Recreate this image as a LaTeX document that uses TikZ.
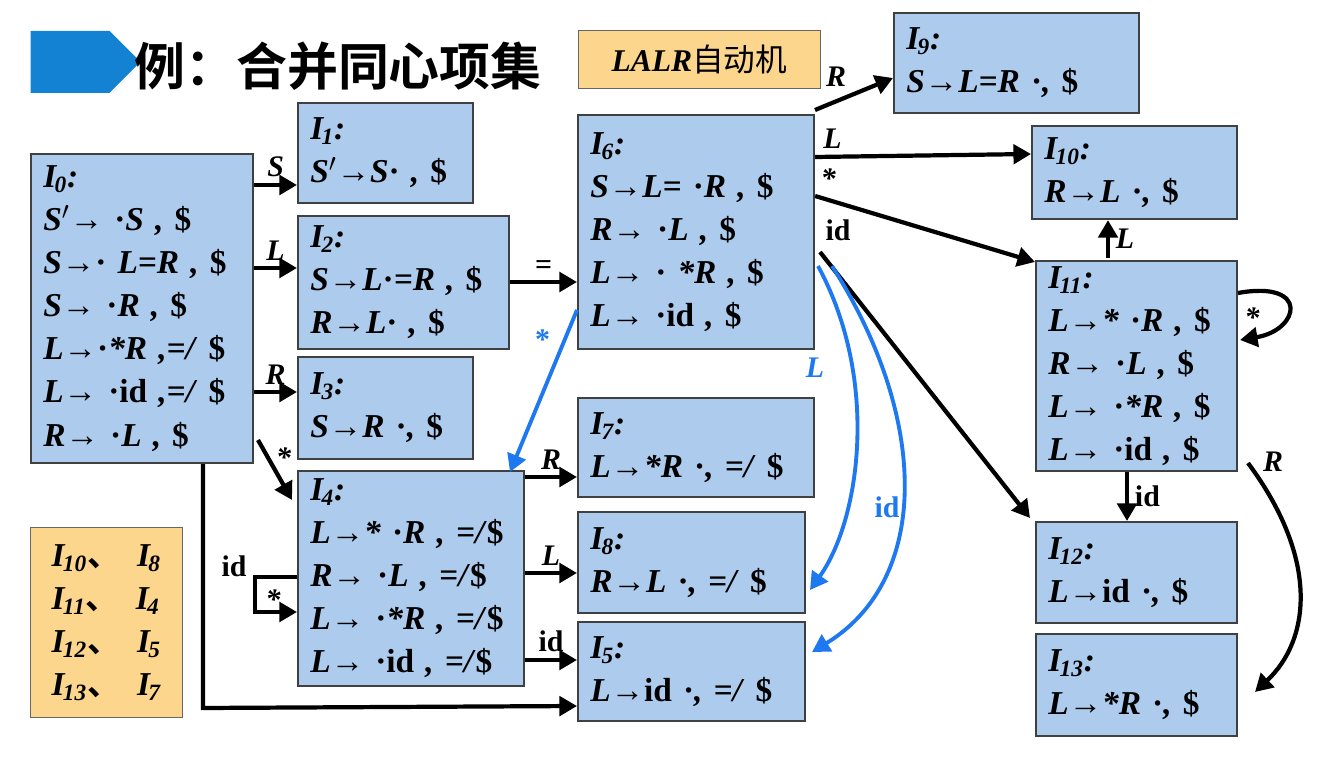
\documentclass[tikz,border=0pt]{standalone}
\usepackage{fontspec}
\setmainfont{Liberation Serif}
\newfontfamily\cjk{Noto Sans CJK SC}[BoldFont={Noto Sans CJK SC Bold}]
\usetikzlibrary{arrows.meta,shapes.arrows}
\newcommand{\ri}{\textup{id}}
\newcommand{\Ii}[1]{I\textsubscript{\kern-1pt#1}}
\newcommand{\dol}{\textup{\$}}
\newcommand{\dt}{\textup{·}}
\begin{document}
\begin{tikzpicture}[x=0.02cm,y=-0.02cm,
  box/.style={draw=black!75,line width=1.2pt,fill={rgb,255:red,173;green,203;blue,237},
    anchor=north west,align=left,inner xsep=6pt,inner ysep=3pt,
    font=\fontsize{19}{24.5}\selectfont\bfseries\itshape},
  arr/.style={line width=2.4pt,-{Triangle[length=10pt,width=11pt]}},
  barr/.style={line width=2.2pt,draw={rgb,255:red,30;green,120;blue,240},-{Triangle[length=10pt,width=11pt]}},
  lab/.style={font=\fontsize{17}{17}\selectfont\bfseries\itshape},
  blab/.style={lab,text={rgb,255:red,30;green,120;blue,240}}]
\useasboundingbox (0,0) rectangle (1326,763);
\newcommand{\bx}[6]{\node[box,minimum width={(#4-#2)*0.02cm},minimum height={(#5-#3)*0.02cm},text width={(#4-#2)*0.02cm-14pt}] (#1) at (#2,#3) {#6};}
% title
\node[single arrow,fill={rgb,255:red,20;green,130;blue,210},minimum height=110*0.02cm,minimum width=62*0.02cm,single arrow head extend=0pt,inner sep=0pt] (ttlarrow) at (70,62) {};
\node[anchor=west,font=\fontsize{29}{29}\selectfont\cjk\bfseries] (title) at (128,66) {例：合并同心项集};
\node[draw=black!60,fill={rgb,255:red,252;green,214;blue,140},anchor=north west,minimum width=242*0.02cm,minimum height=58*0.02cm,font=\fontsize{18}{18}\selectfont] (lalr) at (578,30) {\textbf{\textit{LALR}}{\cjk 自动机}};
% boxes
\bx{I0}{30}{153}{252}{462}{\Ii{0}:\\S$'$→ \dt S , \dol\\S→\dt\ L=R , \dol\\S→ \dt R , \dol\\L→\dt*R ,=/ \dol\\L→ \dt\ri\ ,=/ \dol\\R→ \dt L , \dol}
\bx{I1}{297}{102}{472}{202}{\Ii{1}:\\S$'$→S\dt\ , \dol}
\bx{I2}{297}{215}{508}{348}{\Ii{2}:\\S→L\dt=R , \dol\\R→L\dt\ , \dol}
\bx{I3}{297}{356}{472}{458}{\Ii{3}:\\S→R \dt, \dol}
\bx{I4}{297}{470}{523}{685}{\Ii{4}:\\L→* \dt R , =/\dol\\R→ \dt L , =/\dol\\L→ \dt*R , =/\dol\\L→ \dt\ri\ , =/\dol}
\bx{I6}{577}{114}{813}{348}{\Ii{6}:\\S→L= \dt R , \dol\\R→ \dt L , \dol\\L→ \dt\ *R , \dol\\L→ \dt\ri\ , \dol}
\bx{I7}{577}{397}{813}{496}{\Ii{7}:\\L→*R \dt, =/ \dol}
\bx{I8}{577}{511}{804}{612}{\Ii{8}:\\R→L \dt, =/ \dol}
\bx{I5}{577}{621}{804}{720}{\Ii{5}:\\L→\ri\ \dt, =/ \dol}
\bx{I9}{893}{12}{1138}{112}{\Ii{9}:\\S→L=R \dt, \dol}
\bx{I10}{1031}{125}{1236}{218}{\Ii{10}:\\R→L \dt, \dol}
\bx{I11}{1035}{260}{1236}{470}{\Ii{11}:\\L→* \dt R , \dol\\R→ \dt L , \dol\\L→ \dt*R , \dol\\L→ \dt\ri\ , \dol}
\bx{I12}{1035}{521}{1236}{622}{\Ii{12}:\\L→\ri\ \dt, \dol}
\bx{I13}{1035}{633}{1236}{735}{\Ii{13}:\\L→*R \dt, \dol}
\node[draw=black!60,fill={rgb,255:red,252;green,214;blue,140},anchor=north west,minimum width=152*0.02cm,minimum height=190*0.02cm,align=left,font=\fontsize{19}{24.5}\selectfont\bfseries\itshape] (legend) at (30,527) {\Ii{10}{\cjk\upshape 、}\ \ \Ii{8}\\\Ii{11}{\cjk\upshape 、}\ \ \Ii{4}\\\Ii{12}{\cjk\upshape 、}\ \ \Ii{5}\\\Ii{13}{\cjk\upshape 、}\ \ \Ii{7}};
% edges from I0
\draw[arr] (I0.east|-0,185) -- (I1.west|-0,185) node[lab,midway,above] {S};
\draw[arr] (I0.east|-0,268) -- (I2.west|-0,268) node[lab,midway,above] {L};
\draw[arr] (I0.east|-0,392) -- (I3.west|-0,392) node[lab,midway,above] {R};
\draw[arr] (258,440) -- (292,500) node[lab,pos=0.3,right] {*};
\coordinate (c05) at (203,708);
\draw[arr] (I0.south-|203,0) -- (c05) -- (I5.west|-0,706);
\draw[arr] (I2.east|-0,282) -- (I6.west|-0,282) node[lab,midway,above,font=\fontsize{17}{17}\selectfont\bfseries] {=};
\draw[barr] (577,310) -- (510,472) node[blab,pos=0.18,left,xshift=-4pt,font=\fontsize{17}{17}\selectfont\bfseries] {*};
% I4
\draw[arr] (I4.east|-0,477) -- (I7.west|-0,477) node[lab,midway,above] {R};
\draw[arr] (I4.east|-0,573) -- (I8.west|-0,573) node[lab,midway,above] {L};
\draw[arr] (I4.east|-0,660) -- (I5.west|-0,660) node[lab,midway,above,font=\fontsize{17}{17}\selectfont\bfseries] {id};
\coordinate (l1) at (255,577); \coordinate (l2) at (255,612);
\draw[arr] (I4.west|-0,577) -- (l1) -- (l2) -- (I4.west|-0,612);
\node[font=\fontsize{17}{17}\selectfont\bfseries] (lid) at (234,566) {id};
\node[lab] (lst) at (273,600) {*};
% I6
\draw[arr] (815,110) -- (I9.west|-0,78) node[lab,midway,above left] {R};
\draw[arr] (I6.east|-0,157) -- (I10.west|-0,154) node[lab,pos=0.08,above] {L};
\draw[arr] (I6.east|-0,196) -- (I11.west|-0,262) node[lab,pos=0.06,above,yshift=2pt] {*};
\draw[arr] (820,252) -- (1030,518);
\node[font=\fontsize{17}{17}\selectfont\bfseries] (lid6) at (838,230) {id};
\draw[barr] (818,266) .. controls (880,380) and (860,520) .. (810,590);
\node[blab] (lL6) at (815,368) {L};
\draw[barr] (832,266) .. controls (930,420) and (930,580) .. (812,652);
\node[blab,font=\fontsize{17}{17}\selectfont\bfseries] (lid62) at (887,507) {id};
% I11
\draw[arr] (1108,258) -- (I10.south-|1108,0) node[lab,midway,right] {L};
\draw[arr] (1238,293) .. controls (1310,280) and (1300,330) .. (1240,340);
\node[lab] (ls11) at (1252,318) {*};
\draw[arr] (I11.south-|1127,0) -- (I12.north-|1127,0) node[midway,right,font=\fontsize{17}{17}\selectfont\bfseries] {id};
\draw[arr] (1248,463) .. controls (1320,560) and (1310,640) .. (1255,692);
\node[lab] (lR11) at (1273,462) {R};
\end{tikzpicture}
\end{document}
